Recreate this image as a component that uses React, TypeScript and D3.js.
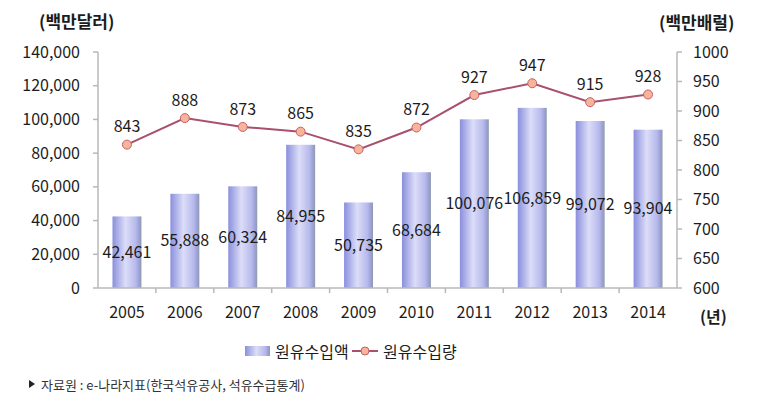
import * as d3 from 'd3';

const years = ['2005', '2006', '2007', '2008', '2009', '2010', '2011', '2012', '2013', '2014'];
const importValue = [42461, 55888, 60324, 84955, 50735, 68684, 100076, 106859, 99072, 93904];
const importVolume = [843, 888, 873, 865, 835, 872, 927, 947, 915, 928];
const leftTicks = [0, 20000, 40000, 60000, 80000, 100000, 120000, 140000];
const rightTicks = [600, 650, 700, 750, 800, 850, 900, 950, 1000];

const W = 778;
const H = 406;
const FONT = '"Noto Sans CJK KR", "Noto Sans", sans-serif';

export default function App() {
  const left = 98;
  const right = 677;
  const top = 52;
  const bottom = 288;

  const x = d3.scaleBand<string>().domain(years).range([left, right]).paddingInner(0).paddingOuter(0);
  const yL = d3.scaleLinear().domain([0, 140000]).range([bottom, top]);
  const yR = d3.scaleLinear().domain([600, 1000]).range([bottom, top]);
  const barW = x.bandwidth() * 0.5;
  const cx = (d: string) => (x(d) ?? 0) + x.bandwidth() / 2;
  const fmt = d3.format(',');

  const line = d3
    .line<number>()
    .x((_, i) => cx(years[i]))
    .y((d) => yR(d));

  const axisColor = '#b8b8b8';
  const textColor = '#1c1c1c';

  return (
    <div style={{ position: 'fixed', left: 0, top: 0 }}>
      <svg width={W} height={H} style={{ display: 'block', background: '#fff' }} fontFamily={FONT}>
        <defs>
          <linearGradient id="barGrad" x1="0" x2="1" y1="0" y2="0">
            <stop offset="0%" stopColor="#8a8fdc" />
            <stop offset="45%" stopColor="#dcddf8" />
            <stop offset="80%" stopColor="#b7baec" />
            <stop offset="92%" stopColor="#9ca2d6" />
            <stop offset="100%" stopColor="#8e9aa6" />
          </linearGradient>
        </defs>

        {/* axis titles */}
        <text x={39} y={28} fontSize={17} fontWeight="bold" fill={textColor}>(백만달러)</text>
        <text x={659} y={29} fontSize={17} fontWeight="bold" fill={textColor}>(백만배럴)</text>
        <text x={700} y={323} fontSize={16} fontWeight="bold" fill={textColor}>(년)</text>

        {/* bars */}
        {importValue.map((v, i) => (
          <rect
            key={years[i]}
            x={cx(years[i]) - barW / 2}
            y={yL(v)}
            width={barW}
            height={bottom - yL(v)}
            fill="url(#barGrad)"
          />
        ))}

        {/* axes */}
        <line x1={left} x2={left} y1={top} y2={bottom} stroke={axisColor} strokeWidth={1.5} />
        <line x1={right} x2={right} y1={top} y2={bottom} stroke={axisColor} strokeWidth={1.5} />
        <line x1={left} x2={right} y1={bottom} y2={bottom} stroke={axisColor} strokeWidth={1.5} />
        {leftTicks.map((t) => (
          <g key={'l' + t}>
            <line x1={left - 5} x2={left} y1={yL(t)} y2={yL(t)} stroke={axisColor} strokeWidth={1.5} />
            <text x={80} y={yL(t)} dy="0.35em" textAnchor="end" fontSize={16} fill={textColor}>
              {fmt(t)}
            </text>
          </g>
        ))}
        {rightTicks.map((t) => (
          <g key={'r' + t}>
            <line x1={right} x2={right + 5} y1={yR(t)} y2={yR(t)} stroke={axisColor} strokeWidth={1.5} />
            <text x={693} y={yR(t)} dy="0.35em" textAnchor="start" fontSize={16} fill={textColor}>
              {t}
            </text>
          </g>
        ))}
        {years.map((yr, i) => (
          <g key={'x' + yr}>
            {i > 0 && (
              <line x1={x(yr)} x2={x(yr)} y1={bottom} y2={bottom + 5} stroke={axisColor} strokeWidth={1.5} />
            )}
            <text x={cx(yr)} y={312} dy="0.35em" textAnchor="middle" fontSize={16} fill={textColor}>
              {yr}
            </text>
          </g>
        ))}

        {/* bar labels */}
        {importValue.map((v, i) => (
          <text
            key={'bl' + i}
            x={cx(years[i])}
            y={(yL(v) + bottom) / 2}
            dy="0.35em"
            textAnchor="middle"
            fontSize={16}
            fill={textColor}
          >
            {fmt(v)}
          </text>
        ))}

        {/* line */}
        <path d={line(importVolume) ?? ''} fill="none" stroke="#a8506e" strokeWidth={2} />
        {importVolume.map((v, i) => (
          <g key={'p' + i}>
            <circle cx={cx(years[i])} cy={yR(v)} r={4.5} fill="#f6b49a" stroke="#c8606a" strokeWidth={1} />
            <text x={cx(years[i])} y={yR(v) - 18} dy="0.35em" textAnchor="middle" fontSize={16} fill={textColor}>
              {v}
            </text>
          </g>
        ))}

        {/* legend */}
        <rect x={245} y={346} width={25} height={10} fill="url(#barGrad)" />
        <text x={275} y={352} dy="0.35em" fontSize={16} fill={textColor}>원유수입액</text>
        <line x1={352} x2={378} y1={351} y2={351} stroke="#a8506e" strokeWidth={2} />
        <circle cx={365} cy={351} r={4} fill="#f6b49a" stroke="#c8606a" strokeWidth={1} />
        <text x={383} y={352} dy="0.35em" fontSize={16} fill={textColor}>원유수입량</text>

        {/* source */}
        <path d="M29,380 L35,384 L29,388 Z" fill="#222" />
        <text x={41} y={385} dy="0.35em" fontSize={13} fill="#333">
          자료원 : e-나라지표(한국석유공사, 석유수급통계)
        </text>
      </svg>
    </div>
  );
}
